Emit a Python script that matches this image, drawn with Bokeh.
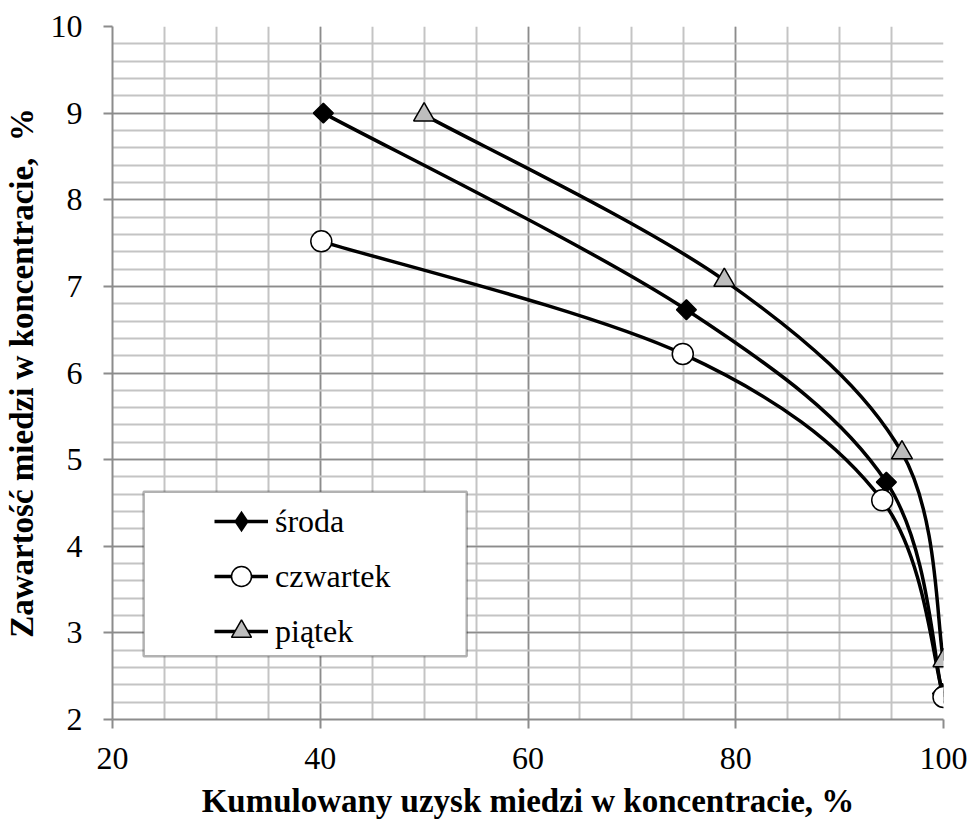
import math
from bokeh.plotting import figure
from bokeh.models import (Range1d, SingleIntervalTicker, Legend, LegendItem,
                          BoxAnnotation, ColumnDataSource)
from bokeh.embed import file_html
from bokeh.resources import INLINE

# ---- data ----
series_names = ["środa", "czwartek", "piątek"]
sroda_x = [40.3, 75.25, 94.5, 99.9]
sroda_y = [9.0, 6.73, 4.74, 2.3]
czwartek_x = [40.1, 74.9, 94.1, 100.0]
czwartek_y = [7.52, 6.22, 4.53, 2.26]
piatek_x = [50.0, 78.9, 96.0, 100.0]
piatek_y = [8.98, 7.07, 5.08, 2.68]

x_label = "Kumulowany uzysk miedzi w koncentracie, %"
y_label = "Zawartość miedzi w koncentracie,\u00a0 %"

FONT = "Liberation Serif"

p = figure(width=969, height=821, output_backend="svg", toolbar_location=None,
           x_range=Range1d(20, 100), y_range=Range1d(2, 10),
           min_border_left=112, min_border_right=26, min_border_top=26,
           min_border_bottom=101)
p.outline_line_color = None
p.background_fill_color = "white"

p.xaxis.ticker = SingleIntervalTicker(interval=20, num_minor_ticks=4)
p.yaxis.ticker = SingleIntervalTicker(interval=1, num_minor_ticks=5)

for g in (p.xgrid, p.ygrid):
    g.grid_line_color = "#8c8c8c"
    g.grid_line_width = 1.5
    g.minor_grid_line_color = "#c4c4c4"
    g.minor_grid_line_width = 2

for ax in (p.xaxis, p.yaxis):
    ax.axis_line_color = "#8c8c8c"
    ax.axis_line_width = 2
    ax.major_tick_line_color = "#8c8c8c"
    ax.major_tick_line_width = 2
    ax.major_tick_out = 9
    ax.major_tick_in = 0
    ax.minor_tick_out = 0
    ax.minor_tick_in = 0
    ax.major_label_text_font = FONT
    ax.major_label_text_font_size = "32px"
    ax.major_label_text_color = "black"
    ax.axis_label_text_font = FONT
    ax.axis_label_text_font_size = "33px"
    ax.axis_label_text_font_style = "bold"
    ax.axis_label_text_color = "black"

p.xaxis.axis_label = x_label
p.yaxis.axis_label = y_label
p.xaxis.major_label_standoff = 19
p.xaxis.axis_label_standoff = 11
p.yaxis.major_label_standoff = 21
p.yaxis.axis_label_standoff = 8


def smooth(xs, ys):
    pts = list(zip(xs, ys))
    n = len(pts)
    d = dict(x0=[], y0=[], x1=[], y1=[], cx0=[], cy0=[], cx1=[], cy1=[])
    for i in range(n - 1):
        p0 = pts[i - 1] if i > 0 else pts[i]
        p1 = pts[i]
        p2 = pts[i + 1]
        p3 = pts[i + 2] if i + 2 < n else pts[i + 1]
        d["x0"].append(p1[0]); d["y0"].append(p1[1])
        d["x1"].append(p2[0]); d["y1"].append(p2[1])
        d["cx0"].append(p1[0] + (p2[0] - p0[0]) / 6)
        d["cy0"].append(p1[1] + (p2[1] - p0[1]) / 6)
        d["cx1"].append(p2[0] - (p3[0] - p1[0]) / 6)
        d["cy1"].append(p2[1] - (p3[1] - p1[1]) / 6)
    return ColumnDataSource(d)


series = [
    (sroda_x, sroda_y, dict(marker="square", size=14, angle=math.pi / 4,
                            fill_color="black", line_color="black", line_width=1.5)),
    (czwartek_x, czwartek_y, dict(marker="circle", size=21,
                                  fill_color="white", line_color="black", line_width=1.5)),
    (piatek_x, piatek_y, dict(marker="triangle", size=21,
                              fill_color="#bdbdbd", line_color="black", line_width=1.5)),
]

rends = []
for xs, ys, mk in series:
    lr = p.bezier(x0="x0", y0="y0", x1="x1", y1="y1", cx0="cx0", cy0="cy0",
                  cx1="cx1", cy1="cy1", source=smooth(xs, ys),
                  line_color="black", line_width=3.5)
    rends.append(lr)
markers = []
for xs, ys, mk in series:
    sr = p.scatter(x=xs, y=ys, **mk)
    markers.append(sr)

# legend symbol for the rotated-square series (legend ignores marker angle);
# zero size so it is invisible in the plot itself
diamond_proxy = p.scatter(x=sroda_x, y=sroda_y, marker="diamond", size=0,
                          fill_color="black", line_color=None)
legend_markers = [diamond_proxy, markers[1], markers[2]]

# legend frame
box = BoxAnnotation(left=23.0, right=54.1, bottom=2.73, top=4.63,
                    fill_color="white", fill_alpha=1.0,
                    line_color="black", line_width=2.5, level="annotation")
p.add_layout(box)

row_offsets = [110, 55, 0]
glyph_heights = [56, 50, 50]
for i, name in enumerate(series_names):
    gh = glyph_heights[i]
    leg = Legend(items=[LegendItem(label=name, renderers=[rends[i], legend_markers[i]])],
                 location=(102, 63 + row_offsets[i] + (50 - gh) / 2),
                 border_line_color=None, background_fill_alpha=0.0,
                 glyph_width=54, glyph_height=gh, label_height=gh,
                 label_standoff=7, padding=0, margin=0, spacing=0,
                 label_text_font=FONT, label_text_font_size="32px",
                 label_text_color="black")
    p.add_layout(leg)

open("out.html", "w").write(file_html(p, INLINE))
